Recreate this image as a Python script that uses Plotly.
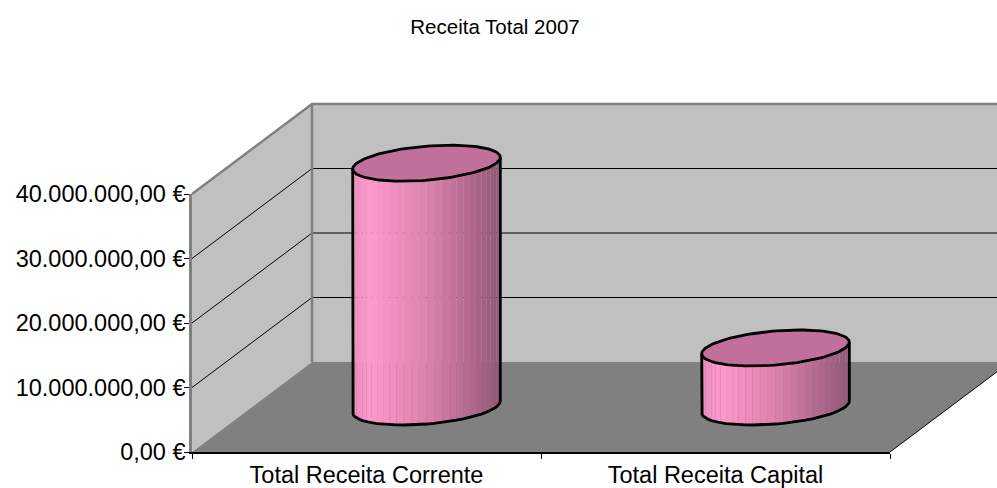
import numpy as np
import plotly.graph_objects as go

TITLE = "Receita Total 2007"
categories = ["Total Receita Corrente", "Total Receita Capital"]
values = [37800000, 9150000]
y_ticks = [0, 10000000, 20000000, 30000000, 40000000]
y_tick_labels = ["0,00 €", "10.000.000,00 €", "20.000.000,00 €", "30.000.000,00 €", "40.000.000,00 €"]

W, H = 997, 488
X0, X1, Y0, Y4 = 192, 890, 452, 194
PX_CAT = (X1 - X0) / 2
PX_VAL = (Y0 - Y4) / 40000000
DEPTH_DX = 120 / PX_CAT      # one depth unit in category units
DEPTH_DY = 90 / PX_VAL       # one depth unit in value units
GREY, WALL, FLOOR = "#808080", "#C0C0C0", "#808080"
FONT = "Liberation Sans, Arial, sans-serif"
STOPS = [(0, (236, 140, 190)), (0.12, (255, 153, 204)), (0.5, (222, 130, 175)),
         (0.85, (170, 100, 135)), (1, (145, 88, 118))]


def proj(x, v, d):
    return x + d * DEPTH_DX, v + d * DEPTH_DY


def shade(f):
    fs = [s[0] for s in STOPS]
    return "rgb(%d,%d,%d)" % tuple(np.interp(f, fs, [s[1][i] for s in STOPS]) for i in range(3))


fig = go.Figure()


def poly(xs, vs, fill, line_color=None, width=0):
    fig.add_trace(go.Scatter(
        x=xs, y=vs, mode="lines", fill="toself" if fill else None, fillcolor=fill,
        line=dict(color=line_color or "rgba(0,0,0,0)", width=width),
        hoverinfo="skip", showlegend=False))


def wall(pts, fill):
    xs, vs = zip(*[proj(*p) for p in pts])
    poly(list(xs), list(vs), fill)


def line(pts, color, width):
    xs, vs = zip(*[proj(*p) for p in pts])
    poly(list(xs), list(vs), None, color, width)


TOP = y_ticks[-1]
wall([(0, 0, 1), (0, TOP, 1), (2, TOP, 1), (2, 0, 1)], WALL)
wall([(0, 0, 0), (0, TOP, 0), (0, TOP, 1), (0, 0, 1)], WALL)
wall([(0, 0, 0), (2, 0, 0), (2, 0, 1), (0, 0, 1)], FLOOR)
for t in y_ticks[1:-1]:
    line([(0, t, 0), (0, t, 1), (2, t, 1)], "#000000", 1)
line([(0, TOP, 0), (0, TOP, 1), (2, TOP, 1)], GREY, 2.5)
line([(0, 0, 1), (0, TOP, 1)], GREY, 2.5)
line([(2, 0, 0), (2, 0, 1)], "#000000", 1)

R_X = 0.2     # radius along the category axis
R_D = 0.2     # radius along the depth axis
A = R_X * PX_CAT
B = R_D * DEPTH_DX * PX_CAT
T0 = np.arctan2(B, A)
STRIPS = 30


def ring(cx, v, t):
    d = 0.5 + R_D * np.sin(t)
    return proj(cx + R_X * np.cos(t), v, d)


for i, val in enumerate(values):
    cx = i + 0.5
    arc = np.linspace(T0 + np.pi, T0 + 2 * np.pi, STRIPS + 1)
    left = ring(cx, 0, arc[0])[0]
    right = ring(cx, 0, arc[-1])[0]
    for a, b in zip(arc[:-1], arc[1:]):
        xa, va = ring(cx, val, a)
        xb, vb = ring(cx, val, b)
        xc, vc = ring(cx, 0, b)
        xd, vd = ring(cx, 0, a)
        f = ((xa + xb) / 2 - left) / (right - left)
        poly([xa, xb, xc, xd, xa], [va, vb, vc, vd, va], shade(f))
    full = np.linspace(0, 2 * np.pi, 121)
    ex, ev = ring(cx, val, full)
    poly(list(ex), list(ev), "#C0709A", "#000000", 2.8)
    bx, bv = ring(cx, 0, arc)
    sx, sv = ring(cx, val, arc[0])
    ux, uv = ring(cx, val, arc[-1])
    poly([sx] + list(bx) + [ux], [sv] + list(bv) + [uv], None, "#000000", 2.8)

# empty trace that brings the visible front axes to life
fig.add_trace(go.Scatter(x=[0, 2], y=[0, TOP], xaxis="x2", yaxis="y2", mode="lines",
                         line=dict(width=0), hoverinfo="skip", showlegend=False))

fig.update_layout(
    template="none",
    width=W, height=H, margin=dict(l=0, r=0, t=0, b=0, pad=0),
    paper_bgcolor="rgba(255,255,255,0)", plot_bgcolor="rgba(255,255,255,0)", showlegend=False,
    font=dict(family=FONT, color="#000000"),
    title=dict(text=TITLE, x=495 / W, xref="paper", xanchor="center",
               y=1 - 27 / H, yref="paper", yanchor="middle", automargin=False,
               font=dict(family=FONT, size=20.5, color="#000000")),
    xaxis=dict(domain=[0, 1], range=[-X0 / PX_CAT, (W - X0) / PX_CAT], visible=False,
               fixedrange=True, automargin=False),
    yaxis=dict(domain=[0, 1], range=[(Y0 - H) / PX_VAL, Y0 / PX_VAL], visible=False,
               fixedrange=True, automargin=False),
    xaxis2=dict(domain=[X0 / W, X1 / W], range=[0, 2], anchor="y2", showgrid=False, zeroline=False,
                showline=True, linecolor="#000000", linewidth=1.5, automargin=False,
                tickmode="array", tickvals=[0.5, 1.5], ticktext=categories, ticks="",
                ticklabelstandoff=1,
                tickfont=dict(family=FONT, size=23.5, color="#000000"),
                minor=dict(tickmode="array", tickvals=[0, 1, 2], ticks="outside",
                           ticklen=5, tickwidth=1, tickcolor="#000000", showgrid=False),
                fixedrange=True),
    yaxis2=dict(domain=[(H - Y0) / H, (H - Y4) / H], range=[0, TOP], anchor="x2", showgrid=False,
                zeroline=False, showline=True, linecolor=GREY, linewidth=2.5, automargin=False,
                tickmode="array", tickvals=y_ticks, ticktext=y_tick_labels, ticks="outside",
                ticklen=5, tickwidth=1, tickcolor="#000000", ticklabelstandoff=-6,
                tickfont=dict(family=FONT, size=23.5, color="#000000"), fixedrange=True),
)

fig.write_html("out.html", config={"displayModeBar": False},
               post_script="document.body.style.margin='0';")
